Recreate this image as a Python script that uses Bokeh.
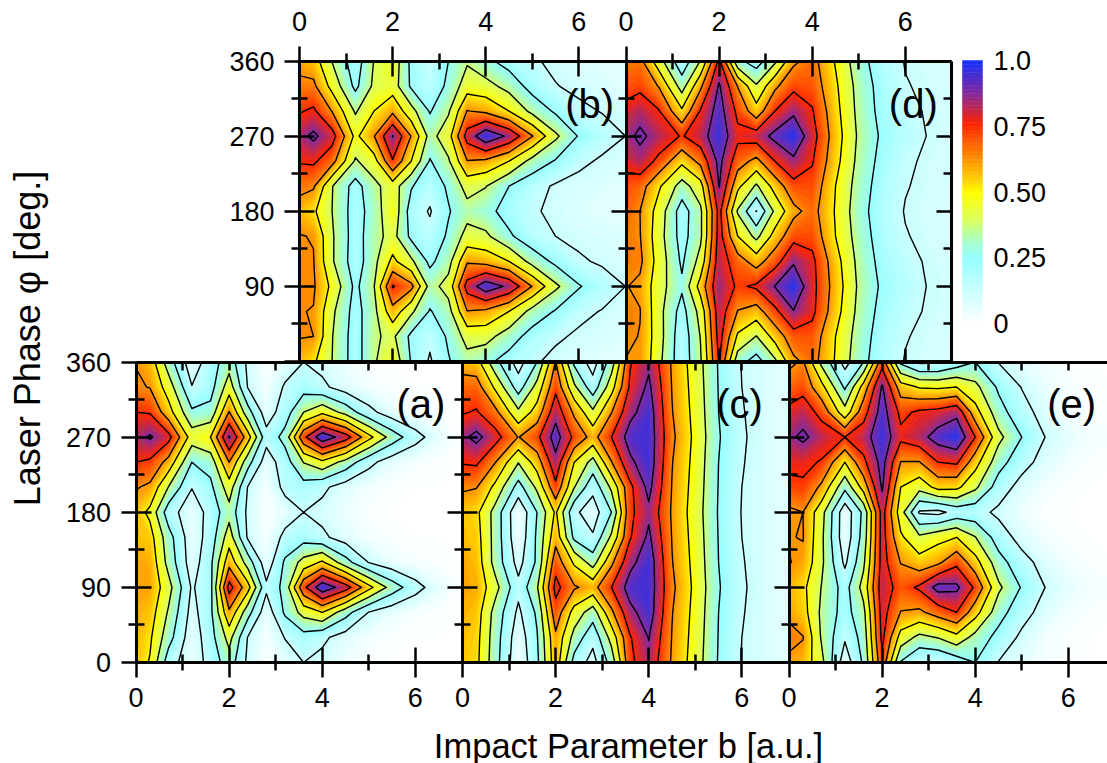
from bokeh.embed import file_html
from bokeh.resources import INLINE
from bokeh.plotting import figure
from bokeh.plotting.contour import contour_data
from bokeh.models import Range1d, LinearAxis, FixedTicker, ColumnDataSource, Label

# impact parameter columns and phase rows of the maps
B = [0, .3, .7, 1.2, 1.6, 2, 2.4, 2.8, 3.2, 3.6, 4, 4.5, 5, 5.5, 6, 6.5, 7]
PHI = [0, 30, 60, 90, 120, 150, 180, 210, 240, 270, 300, 330, 360]

MAP_A = [
    [.57, .49, .18, .05, .17, .32, .10, .01, .06, .125, .09, .04, .01, 0, 0, 0, 0],
    [.58, .52, .30, .05, .20, .42, .12, .02, .13, .20, .15, .07, .03, .01, 0, 0, 0],
    [.59, .56, .36, .08, .22, .60, .30, .05, .27, .42, .50, .30, .12, .05, .02, .01, 0],
    [.61, .60, .42, .11, .21, .80, .55, .15, .29, .72, .96, .81, .54, .32, .17, .06, .01],
    [.60, .59, .33, .06, .22, .58, .32, .05, .27, .42, .52, .30, .12, .05, .02, .01, 0],
    [.57, .55, .30, .05, .18, .44, .11, .02, .16, .20, .15, .07, .03, .01, 0, 0, 0],
    [.56, .47, .18, .05, .17, .33, .10, .01, .06, .125, .09, .04, .01, 0, 0, 0, 0],
    [.635, .60, .37, .13, .22, .44, .12, .02, .16, .20, .15, .07, .03, .01, 0, 0, 0],
    [.75, .73, .58, .25, .30, .625, .30, .06, .19, .38, .47, .33, .16, .06, .02, .01, 0],
    [.83, .89, .79, .44, .50, .885, .56, .17, .29, .72, .96, .81, .54, .32, .17, .06, .01],
    [.75, .74, .55, .27, .29, .63, .30, .06, .19, .375, .47, .33, .16, .06, .02, .01, 0],
    [.64, .62, .44, .13, .20, .44, .12, .02, .14, .20, .15, .07, .03, .01, 0, 0, 0],
    [.62, .57, .31, .05, .19, .32, .10, .01, .06, .125, .09, .04, .01, 0, 0, 0, 0],
]
MAP_B = [
    [.57, .52, .375, .19, .36, .47, .24, .11, .24, .33, .28, .2, .14, .1, .08, .07, .06],
    [.63, .625, .38, .19, .36, .4, .22, .15, .27, .42, .42, .31, .2, .14, .11, .09, .08],
    [.63, .62, .4, .2, .34, .58, .4, .24, .33, .62, .6, .5, .33, .24, .15, .12, .09],
    [.64, .64, .47, .22, .37, .76, .66, .33, .42, .8, .95, .85, .62, .4, .26, .18, .125],
    [.64, .63, .39, .18, .34, .53, .4, .22, .33, .61, .58, .5, .33, .22, .14, .11, .09],
    [.63, .62, .39, .19, .33, .42, .22, .16, .27, .42, .4, .27, .17, .125, .1, .09, .08],
    [.57, .52, .375, .19, .31, .47, .19, .115, .24, .33, .29, .2, .14, .1, .08, .07, .06],
    [.66, .64, .38, .2, .34, .44, .26, .17, .27, .42, .38, .25, .17, .11, .09, .08, .07],
    [.76, .77, .67, .36, .45, .74, .5, .24, .36, .62, .6, .5, .33, .24, .15, .11, .09],
    [.84, .9, .8, .47, .62, .88, .62, .33, .45, .8, .97, .85, .63, .40, .24, .17, .125],
    [.74, .77, .62, .36, .5, .6, .42, .24, .36, .63, .6, .5, .34, .23, .15, .12, .1],
    [.65, .65, .46, .22, .4, .44, .23, .155, .28, .44, .42, .33, .2, .13, .1, .085, .07],
    [.59, .56, .37, .18, .38, .46, .22, .125, .25, .36, .28, .2, .14, .1, .08, .07, .06],
]
MAP_C = [
    [.56, .53, .3, .03, .22, .58, .2, .08, .3, .72, .84, .61, .44, .24, .12, .09, .06],
    [.57, .54, .31, .05, .24, .6, .33, .16, .42, .74, .88, .62, .45, .245, .125, .09, .06],
    [.59, .56, .33, .1, .27, .7, .45, .31, .6, .84, .94, .63, .46, .25, .13, .09, .06],
    [.6, .59, .42, .16, .36, .79, .64, .58, .75, .93, .95, .65, .47, .26, .135, .09, .06],
    [.6, .57, .33, .08, .27, .7, .48, .32, .6, .84, .95, .63, .46, .25, .13, .09, .06],
    [.57, .55, .33, .03, .27, .58, .22, .14, .4, .74, .9, .62, .45, .245, .125, .09, .06],
    [.56, .53, .33, .02, .25, .52, .15, .06, .25, .72, .85, .61, .44, .24, .12, .09, .06],
    [.64, .63, .47, .2, .4, .72, .38, .16, .4, .72, .91, .62, .45, .245, .125, .09, .06],
    [.76, .77, .63, .38, .56, .84, .5, .33, .62, .85, .95, .63, .46, .25, .13, .09, .06],
    [.85, .91, .80, .62, .72, .93, .72, .58, .75, .93, .95, .65, .47, .26, .135, .09, .06],
    [.74, .76, .66, .40, .55, .83, .60, .40, .62, .84, .94, .63, .46, .25, .13, .09, .06],
    [.68, .68, .48, .19, .42, .72, .40, .175, .45, .77, .90, .62, .45, .245, .125, .09, .06],
    [.57, .55, .29, .07, .25, .63, .22, .07, .31, .74, .85, .61, .44, .24, .12, .09, .06],
]
MAP_D = [
    [.62, .62, .41, .17, .36, .76, .3, .2, .35, .6, .67, .49, .3, .18, .12, .1, .09],
    [.65, .62, .43, .17, .38, .8, .48, .37, .55, .7, .7, .5, .32, .19, .13, .105, .09],
    [.66, .63, .42, .2, .42, .82, .62, .57, .72, .87, .78, .55, .34, .21, .15, .115, .1],
    [.63, .6, .43, .27, .55, .85, .73, .77, .88, .98, .79, .57, .355, .23, .17, .12, .1],
    [.66, .65, .45, .23, .42, .82, .68, .57, .7, .86, .78, .55, .34, .21, .15, .115, .1],
    [.66, .63, .43, .2, .35, .8, .5, .34, .55, .71, .71, .5, .32, .19, .13, .105, .09],
    [.68, .625, .45, .19, .35, .79, .36, .12, .4, .59, .67, .49, .3, .18, .12, .1, .09],
    [.7, .68, .52, .32, .45, .88, .53, .355, .55, .71, .71, .5, .32, .19, .13, .105, .09],
    [.79, .83, .72, .53, .66, .91, .68, .59, .75, .85, .76, .54, .34, .21, .14, .11, .1],
    [.84, .9, .83, .74, .82, .96, .78, .81, .91, .98, .8, .56, .355, .23, .17, .12, .1],
    [.79, .83, .76, .52, .76, .93, .72, .55, .75, .85, .76, .54, .34, .21, .15, .115, .1],
    [.7, .72, .62, .32, .6, .89, .62, .39, .6, .72, .7, .52, .33, .2, .13, .11, .09],
    [.65, .66, .43, .16, .38, .78, .28, .19, .35, .6, .67, .49, .3, .18, .12, .1, .09],
]
MAP_E = [
    [.6, .58, .41, .05, .27, .72, .24, .12, .12, .18, .25, .12, .06, .03, .01, 0, 0],
    [.66, .63, .36, .14, .3, .78, .45, .34, .38, .46, .33, .21, .1, .03, .01, 0, 0],
    [.6, .55, .35, .2, .34, .8, .62, .6, .68, .75, .55, .3, .17, .08, .03, .01, 0],
    [.58, .53, .37, .2, .42, .82, .7, .77, .92, .9, .73, .4, .24, .125, .06, .03, .02],
    [.63, .6, .4, .1, .35, .8, .62, .55, .6, .72, .55, .3, .17, .08, .03, .01, 0],
    [.62, .63, .4, .04, .3, .8, .52, .4, .46, .5, .38, .19, .08, .03, .01, 0, 0],
    [.6, .625, .42, .04, .28, .8, .43, .11, .09, .17, .17, .1, .04, .01, 0, 0, 0],
    [.72, .73, .6, .28, .55, .89, .5, .42, .54, .53, .4, .19, .08, .03, .01, 0, 0],
    [.78, .78, .74, .5, .72, .92, .62, .62, .75, .77, .55, .3, .17, .08, .03, .01, 0],
    [.85, .9, .82, .75, .82, .96, .78, .83, .93, .98, .75, .41, .25, .125, .06, .03, .02],
    [.78, .82, .71, .42, .7, .93, .72, .77, .79, .84, .55, .3, .17, .08, .03, .01, 0],
    [.68, .71, .54, .23, .55, .89, .56, .49, .48, .5, .41, .23, .12, .05, .02, .01, 0],
    [.6, .64, .34, .08, .25, .7, .22, .1, .11, .18, .25, .12, .06, .03, .01, 0, 0],
]

LINE_LEVELS = [.125, .25, .375, .5, .625, .75, .875]
X_MAJOR = [0, 2, 4, 6]
X_MINOR = [1, 3, 5]
Y_MAJOR = [0, 90, 180, 270, 360]
Y_MINOR = [45, 135, 225, 315]
BAR_TICKS = [0, .25, .5, .75, 1]
BAR_LABELS = {0: "0", .25: "0.25", .5: "0.50", .75: "0.75", 1: "1.0"}
FONT = "Liberation Sans"

STOPS = [(0, (255, 255, 255)), (.25, (150, 255, 255)), (.31, (165, 255, 205)), (.40, (222, 255, 85)),
         (.5, (255, 255, 0)), (.53, (255, 222, 0)), (.62, (255, 150, 0)), (.76, (255, 35, 0)),
         (.87, (135, 40, 150)), (1, (20, 50, 255))]


def colour(v):
    for (a, ca), (b, cb) in zip(STOPS, STOPS[1:]):
        if v <= b:
            t = (v - a) / (b - a)
            return "#%02x%02x%02x" % tuple(round(u + (w - u) * t) for u, w in zip(ca, cb))
    return "#1432ff"


BANDS = 64
band_edges = [i / BANDS for i in range(BANDS + 1)]
band_colours = [colour((i + .5) / BANDS) for i in range(BANDS)]

# page pixels: the default ranges are the page itself
PX_PER_B = 46.56
PX_PER_DEG = 300.5 / 360
LEFT, RIGHT, TOP, BOTTOM = 0, 1107, 0, 763
p = figure(width=RIGHT - LEFT, height=BOTTOM - TOP, output_backend="svg", toolbar_location=None,
           x_range=Range1d(LEFT, RIGHT), y_range=Range1d(BOTTOM, TOP), x_axis_type=None, y_axis_type=None,
           min_border=0, outline_line_color=None, background_fill_color="white", border_fill_color="white")
p.grid.visible = False

ROW_ZERO = {"upper": 361.0, "lower": 662.0}
for name, y0 in ROW_ZERO.items():
    p.extra_y_ranges[name] = Range1d((y0 - BOTTOM) / PX_PER_DEG, (y0 - TOP) / PX_PER_DEG)

PANELS = [("a", MAP_A, 135.5, "lower"), ("c", MAP_C, 462.0, "lower"), ("e", MAP_E, 788.5, "lower"),
          ("b", MAP_B, 299.0, "upper"), ("d", MAP_D, 625.5, "upper")]
for name, z, x0, row in PANELS:
    p.extra_x_ranges[name] = Range1d((LEFT - x0) / PX_PER_B, (RIGHT - x0) / PX_PER_B)
    cd = contour_data(B, PHI, z, band_edges)
    fd = cd.fill_data
    keep = [i for i in range(len(fd.xs)) if len(fd.xs[i]) > 0]
    src = ColumnDataSource(dict(xs=[fd.xs[i] for i in keep], ys=[fd.ys[i] for i in keep],
                                c=[band_colours[i] for i in keep]))
    p.multi_polygons("xs", "ys", source=src, fill_color="c", line_color="c", line_width=.7,
                     x_range_name=name, y_range_name=row)
    ld = contour_data(B, PHI, z, LINE_LEVELS, want_fill=False, want_line=True).line_data
    p.multi_line(list(ld.xs), list(ld.ys), line_color="black", line_width=1.4, line_join="round",
                 x_range_name=name, y_range_name=row)


def axis(side, xn, yn, loc, major, minor, labels=False, in_=15, out=15, mi=8, mo=8, standoff=10):
    bounds = (0, 7) if side in ("above", "below") else (0, 360)
    over = {} if labels is True else {t: "" for t in major}
    if isinstance(labels, (list, tuple)):
        over = {t: ("" if t not in labels else str(t)) for t in major}
    ax = LinearAxis(x_range_name=xn, y_range_name=yn, fixed_location=loc, bounds=bounds,
                    ticker=FixedTicker(ticks=major, minor_ticks=minor),
                    major_tick_in=in_, major_tick_out=out, minor_tick_in=mi, minor_tick_out=mo,
                    axis_line_width=3, axis_line_color="black", major_tick_line_width=2.5,
                    minor_tick_line_width=2.5, major_tick_line_color="black", minor_tick_line_color="black",
                    major_label_overrides=over, major_label_standoff=standoff,
                    major_label_text_font=FONT, major_label_text_font_size="27px",
                    major_label_text_color="black")
    p.add_layout(ax, side)


for name, z, x0, row in PANELS:
    ymap = "upper" if row == "upper" else "lower"
    if row == "lower":
        axis("left", name, ymap, 0, Y_MAJOR, Y_MINOR, labels=Y_MAJOR if name == "a" else False)
        axis("below", name, ymap, 0, X_MAJOR, X_MINOR, labels=True)
        axis("above", name, ymap, 360, X_MAJOR, X_MINOR, in_=8, out=0, mi=8, mo=0)
    else:
        axis("left", name, ymap, 0, Y_MAJOR, Y_MINOR, labels=[90, 180, 270, 360] if name == "b" else False)
        axis("above", name, ymap, 360, X_MAJOR, X_MINOR, labels=True, standoff=15)
        axis("below", name, ymap, 0, X_MAJOR, [], in_=13, out=0, mi=0, mo=0)
axis("right", "d", "upper", 7, Y_MAJOR, Y_MINOR, in_=15, out=0, mi=8, mo=0)

# colour scale
p.extra_x_ranges["bar"] = Range1d((LEFT - 962) / 20, (RIGHT - 962) / 20)
p.extra_y_ranges["bar"] = Range1d((323 - BOTTOM) / 263, (323 - TOP) / 263)
p.quad(left=0, right=1, bottom=band_edges[:-1], top=band_edges[1:], fill_color=band_colours,
       line_color=band_colours, line_width=.5, x_range_name="bar", y_range_name="bar")
bar_axis = LinearAxis(x_range_name="bar", y_range_name="bar", fixed_location=1, bounds=(0, 1),
                      ticker=FixedTicker(ticks=BAR_TICKS), major_tick_in=0, major_tick_out=0, minor_tick_in=0,
                      minor_tick_out=0, axis_line_color=None, major_label_overrides=BAR_LABELS,
                      major_label_standoff=11, major_label_text_font=FONT, major_label_text_font_size="27px",
                      major_label_text_color="black")
p.add_layout(bar_axis, "right")

# panel letters, placed in each panel's own coordinates
LETTERS = [("(a)", "a", "lower", 6.12, 310), ("(c)", "c", "lower", 5.95, 310), ("(e)", "e", "lower", 6.07, 310),
           ("(b)", "b", "upper", 6.23, 308), ("(d)", "d", "upper", 6.17, 308)]
for txt, xn, yn, bx, ph in LETTERS:
    p.add_layout(Label(x=bx, y=ph, x_range_name=xn, y_range_name=yn, text=txt, text_font=FONT,
                       text_font_size="40px", text_align="center", text_baseline="middle", text_color="black"))

p.add_layout(Label(x=628, y=745, text="Impact Parameter b [a.u.]", text_font=FONT, text_font_size="34.5px",
                   text_align="center", text_baseline="middle", text_color="black"))
p.add_layout(Label(x=27, y=338, text="Laser Phase φ [deg.]", text_font=FONT, text_font_size="36px", angle=90,
                   angle_units="deg", text_align="center", text_baseline="middle", text_color="black"))

open("out.html", "w").write(file_html(p, INLINE))
